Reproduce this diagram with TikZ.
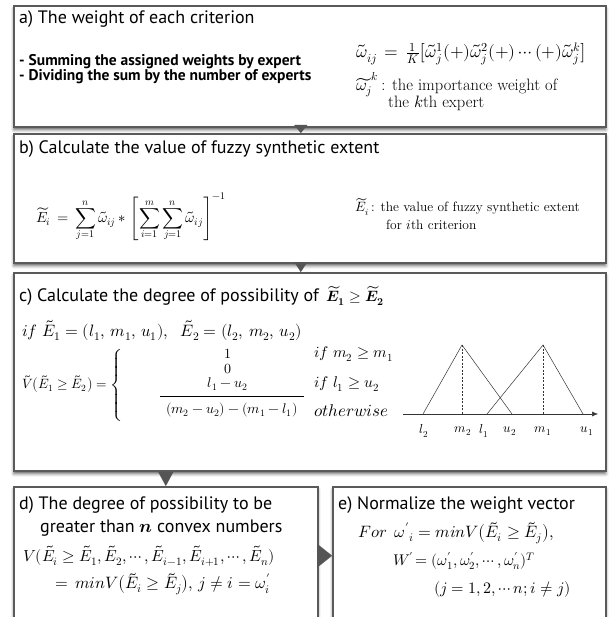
\documentclass[tikz,border=0pt]{standalone}
\usepackage{amsmath}
\usepackage{fontspec}
\usepackage{unicode-math}
\setmathfont{Latin Modern Math}
\setsansfont{PT Sans}
\usetikzlibrary{shadows.blur,arrows.meta,calc}
\definecolor{bordergray}{HTML}{5A5A5A}
\definecolor{arrowgray}{HTML}{555555}
\tikzset{
  box/.style={draw=bordergray, line width=1.6pt, fill=white, inner sep=0pt, anchor=north west,
    blur shadow={shadow xshift=0pt, shadow yshift=-3pt, shadow blur radius=3pt, shadow opacity=60}},
  head/.style={font=\sffamily\fontsize{18}{21}\selectfont, inner sep=0pt, anchor=west},
  body/.style={font=\sffamily\bfseries\fontsize{15.5}{18}\selectfont, inner sep=0pt, anchor=west},
  mth/.style={font=\fontsize{#1}{#1}\selectfont, inner sep=0pt, anchor=west},
  mth/.default=16,
  flow/.style n args={2}{-{Triangle[length=#1,width=#2]}, draw=arrowgray, line width=0.01pt},
  graphline/.style={line width=0.5pt, draw=black!80},
  lbl/.style={font=\fontsize{13}{15}\selectfont, inner sep=0pt, anchor=center}
}
\begin{document}
\begin{tikzpicture}[x=1pt,y=-1pt]
\useasboundingbox (0,0) rectangle (609,617);
\clip (0,0) rectangle (609,617);
% boxes
\node[box, minimum width=592pt, minimum height=121pt] (A) at (13,5) {};
\node[box, minimum width=592pt, minimum height=129pt] (B) at (13,133) {};
\node[box, minimum width=592pt, minimum height=198pt] (C) at (13,272) {};
\node[box, minimum width=304pt, minimum height=150pt] (D) at (13,486) {};
\node[box, minimum width=273pt, minimum height=150pt] (E) at (332,486) {};
% connectors
\draw[flow={8pt}{13pt}] ([xshift=-9pt]A.south) -- ([xshift=-9pt]B.north);
\draw[flow={10pt}{13pt}] ([xshift=-9pt]B.south) -- ([xshift=-9pt]C.north);
\draw[flow={14pt}{15pt}] ([xshift=-144pt]C.south) -- (D.north);
\coordinate (dr) at ($(D.north east)!0.46!(D.south east)$);
\coordinate (el) at ($(E.north west)!0.46!(E.south west)$);
\draw[flow={15pt}{24pt}] (dr) -- (el);
% box a
\node[head] (ah) at (19,19) {a) The weight of each criterion};
\node[body] (a1) at (19,62) {- Summing the assigned weights by expert};
\node[body] (a2) at (19,77) {- Dividing the sum by the number of experts};
\node[mth=17.5] (af) at (356,54) {$\widetilde{\omega}_{ij}\,=\,\frac{1}{K}\bigl[\tilde{\omega}_j^1(+)\tilde{\omega}_j^2(+)\cdots(+)\tilde{\omega}_j^k\bigr]$};
\node[mth=16.5] (an1) at (356,85) {$\widetilde{\omega_j}^k$\,: the importance weight of};
\node[mth=16.5] (an2) at (388,103) {the $k$th expert};
% box b
\node[head] (bh) at (19,149) {b) Calculate the value of fuzzy synthetic extent};
\node[mth=14.5] (bf) at (36,217) {$\displaystyle \widetilde{E}_i \,=\, \sum_{j=1}^{n}\widetilde{\omega}_{ij} * \left[\sum_{i=1}^{m}\sum_{j=1}^{n}\widetilde{\omega}_{ij}\right]^{-1}$};
\node[mth=13.5] (bn1) at (355,207) {$\widetilde{E}_i$\,: the value of fuzzy synthetic extent};
\node[mth=13.5] (bn2) at (386,225) {for $i$th criterion};
% box c
\node[head] (ch) at (19,296) {c) Calculate the degree of possibility of\, {\fontsize{15}{17}\selectfont$\widetilde{\symbfit{E}}_{\symbf{1}} \geq \widetilde{\symbfit{E}}_{\symbf{2}}$}};
\node[mth=16.5] (cif) at (22,330) {$if\ \tilde{E}_1 = (l_1,\,m_1,\,u_1),\ \ \tilde{E}_2 = (l_2,\,m_2,\,u_2)$};
\node[mth=13.5] (cv) at (22,384) {$\tilde{V}\bigl(\tilde{E}_1 \geq \tilde{E}_2\bigr) = \left\{\vphantom{\rule{0pt}{42pt}}\right.$};
\node[mth=14, anchor=center] (c1) at (228,354) {$1$};
\node[mth=14, anchor=center] (c0) at (228,369) {$0$};
\node[mth=14, anchor=center] (cn) at (228,384) {$l_1 - u_2$};
\node[mth=14, anchor=center] (cd) at (232,410) {$(m_2 - u_2) - (m_1 - l_1)$};
\draw[line width=0.5pt] (160,396) -- (304,396);
\node[mth=15.5] (k1) at (314,354) {$if\ m_2 \geq m_1$};
\node[mth=15.5] (k2) at (314,384) {$if\ l_1 \geq u_2$};
\node[mth=17] (k3) at (314,411) {$otherwise$};
% graph
\coordinate (ax0) at (403,414);
\coordinate (ax1) at (598,414);
\draw[graphline, -{Latex[length=6pt,width=5pt]}] (ax0) -- (ax1);
\coordinate (l2) at (423,414); \coordinate (m2) at (462,414); \coordinate (u2) at (512,414);
\coordinate (l1) at (487,414); \coordinate (m1) at (543,414); \coordinate (u1) at (583,414);
\coordinate (p2) at (462,345); \coordinate (p1) at (543,345);
\draw[graphline] (l2) -- (p2) -- (u2);
\draw[graphline] (l1) -- (p1) -- (u1);
\draw[graphline, dash pattern=on 2pt off 1.5pt] (p2) -- (m2);
\draw[graphline, dash pattern=on 2pt off 1.5pt] (p1) -- (m1);
\node[lbl] (tl2) at (424,431) {$l_2$};
\node[lbl] (tm2) at (463,431) {$m_2$};
\node[lbl] (tl1) at (484,431) {$l_1$};
\node[lbl] (tu2) at (510,431) {$u_2$};
\node[lbl] (tm1) at (543,431) {$m_1$};
\node[lbl] (tu1) at (587,431) {$u_1$};
% box d
\node[head] (dh1) at (19,505) {d) The degree of possibility to be};
\node[head] (dh2) at (40,528) {greater than $\symbfit{n}$ convex numbers};
\node[mth=16] (df1) at (23,556) {$V(\tilde{E}_i \geq \tilde{E}_1, \tilde{E}_2, \cdots, \tilde{E}_{i-1}, \tilde{E}_{i+1}, \cdots, \tilde{E}_n)$};
\node[mth=16.5] (df2) at (55,584) {$=\,minV\bigl(\tilde{E}_i \geq \tilde{E}_j\bigr),\, j \neq i = \omega'_i$};
% box e
\node[head] (eh) at (338,505) {e) Normalize the weight vector};
\node[mth=16.5] (e1) at (358,533) {$For\ \,\omega'{}_i = minV\bigl(\tilde{E}_i \geq \tilde{E}_j\bigr),$};
\node[mth=15.5] (e2) at (393,561) {$W'\!= (\omega'_1,\omega'_2,\cdots,\omega'_n)^T$};
\node[mth=16] (e3) at (434,589) {$(j = 1,2,\cdots n; i \neq j)$};
\end{tikzpicture}
\end{document}
